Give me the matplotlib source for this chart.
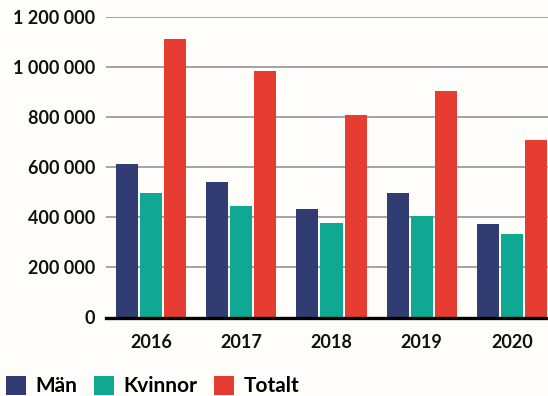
import matplotlib
matplotlib.use("Agg")
import matplotlib.pyplot as plt
import numpy as np
from matplotlib.patches import Patch

years = ["2016", "2017", "2018", "2019", "2020"]
man = [613000, 541000, 433000, 497000, 373000]
kvinnor = [497000, 445000, 377000, 405000, 333000]
totalt = [1112000, 985000, 809000, 904000, 708000]
series_names = ["Män", "Kvinnor", "Totalt"]
colors = ["#313d72", "#0fa993", "#e63c31"]
yticks = [0, 200000, 400000, 600000, 800000, 1000000, 1200000]

plt.rcParams["font.family"] = ["Lato", "DejaVu Sans"]
bg = "#fffdf9"

fig = plt.figure(figsize=(5.48, 3.96), dpi=100, facecolor=bg)
ax = fig.add_axes([106 / 548, 78.5 / 396, 1 - 106 / 548, 300.5 / 396])
ax.set_facecolor(bg)

x = np.arange(len(years))
width = 0.245
step = 0.267
for i, (vals, col) in enumerate(zip([man, kvinnor, totalt], colors)):
    ax.bar(x + (i - 1) * step, vals, width=width, color=col, zorder=3)

ax.set_xlim(-0.5, 4.4)
ax.set_ylim(0, 1200000)
ax.set_yticks(yticks)
ax.set_yticklabels([f"{v:,}".replace(",", " ") for v in yticks])
ax.set_xticks(x)
ax.set_xticklabels(years)

ax.grid(axis="y", color="#9c9c9c", linewidth=1.3, zorder=0)
ax.set_axisbelow(True)
for side in ["top", "right", "left"]:
    ax.spines[side].set_visible(False)
ax.spines["bottom"].set_color("black")
ax.spines["bottom"].set_linewidth(2.4)
ax.spines["bottom"].set_zorder(4)

ax.tick_params(axis="both", length=0, labelsize=13, colors="#111111")
ax.tick_params(axis="y", pad=8)
ax.tick_params(axis="x", pad=12)
for lbl in ax.get_xticklabels() + ax.get_yticklabels():
    lbl.set_fontweight("bold")

handles = [Patch(facecolor=c, edgecolor="none") for c in colors]
fig.legend(handles, series_names, loc="lower left", bbox_to_anchor=(0.0, -0.017),
           ncol=3, frameon=False, prop={"weight": "bold", "size": 15},
           handlelength=0.96, handleheight=1.05, handletextpad=0.45,
           columnspacing=0.8, borderaxespad=0.0, borderpad=0.3)

fig.savefig("out.png", dpi=100, facecolor=bg)
